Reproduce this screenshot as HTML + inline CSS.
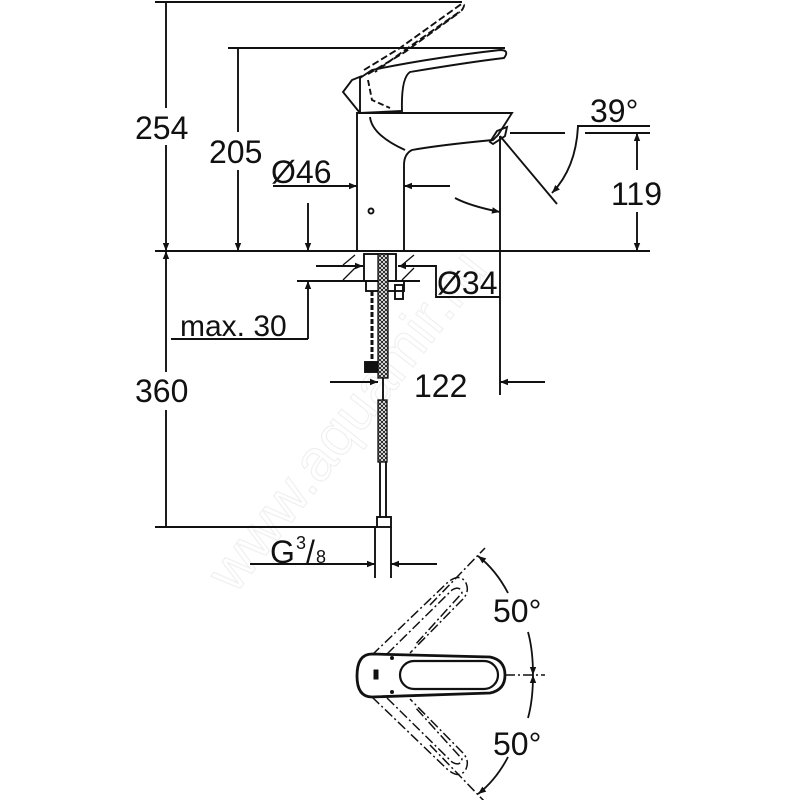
<!DOCTYPE html>
<html><head><meta charset="utf-8"><style>
html,body{margin:0;padding:0;background:#fff;}
svg{display:block;}
text{font-family:"Liberation Sans",Arial,sans-serif;fill:#111;}
</style></head><body>
<svg width="800" height="800" viewBox="0 0 800 800" xmlns="http://www.w3.org/2000/svg">
<defs>
<marker id="a" viewBox="0 0 10 10" refX="10" refY="5" markerWidth="16" markerHeight="8" markerUnits="userSpaceOnUse" orient="auto-start-reverse"><path d="M0,1 L10,5 L0,9 z" fill="#111"/></marker>
<pattern id="br" width="4" height="4" patternUnits="userSpaceOnUse"><rect width="4" height="4" fill="#fff"/><path d="M0,0 L4,4 M4,0 L0,4" stroke="#111" stroke-width="0.9"/></pattern>
</defs>
<text x="0" y="0" transform="translate(235,595) rotate(-52)" font-size="58" style="fill:none" stroke="#f0f0f0" stroke-width="1.2">www.aquamir.ru</text>
<g stroke="#111" stroke-width="1.9" fill="none">
<line x1="155" y1="2" x2="462" y2="2"/>
<line x1="228" y1="48" x2="505" y2="48"/>
<line x1="155" y1="251" x2="650" y2="251"/>
<line x1="297" y1="281" x2="420" y2="281"/>
<line x1="166" y1="2" x2="166" y2="108"/>
<line x1="166" y1="145" x2="166" y2="251" marker-end="url(#a)"/>
<line x1="166" y1="251" x2="166" y2="372" marker-start="url(#a)"/>
<line x1="166" y1="410" x2="166" y2="527"/>
<line x1="155" y1="527" x2="378" y2="527"/>
<line x1="238" y1="48" x2="238" y2="132"/>
<line x1="238" y1="170" x2="238" y2="251" marker-end="url(#a)"/>
<line x1="308" y1="203" x2="308" y2="251" marker-end="url(#a)"/>
<line x1="308" y1="339" x2="308" y2="281" marker-end="url(#a)"/>
<line x1="171" y1="339" x2="308" y2="339"/>
<line x1="273" y1="186" x2="357" y2="186" marker-end="url(#a)"/>
<line x1="450" y1="186" x2="404" y2="186" marker-end="url(#a)"/>
<line x1="500" y1="136" x2="500" y2="395"/>
<line x1="330" y1="382" x2="378" y2="382" marker-end="url(#a)"/>
<line x1="545" y1="382" x2="500" y2="382" marker-end="url(#a)"/>
<line x1="510" y1="133" x2="565" y2="133"/>
<line x1="585" y1="133" x2="650" y2="133"/>
<line x1="577" y1="126" x2="650" y2="126"/>
<line x1="637" y1="170" x2="637" y2="133" marker-end="url(#a)"/>
<line x1="637" y1="212" x2="637" y2="251" marker-end="url(#a)"/>
<line x1="500" y1="136" x2="557" y2="204"/>
<path d="M578,126 Q576,168 552,193" marker-end="url(#a)"/>
<path d="M455,198 Q470,206 500,212" marker-end="url(#a)"/>
<path d="M357,251 L357,113 L512,113 L498,135 L493,140 Q440,145 412,150 Q404,154 404,165 L404,251"/>
<path d="M370,117 Q372,135 405,150"/>
<path d="M490,142 L497,131 L507,127 L505,136 L493,144 z"/>
<circle cx="371" cy="211" r="2.5"/>
<path d="M360,113 L360,78 L372,70 Q430,58 500,50 Q510,50 504,58 Q470,62 410,72 Q401,78 402,111 L360,113"/>
<path d="M360,113 L343,92 L352,80 L362,76"/>
<path d="M368,80 L372,100 L390,108" stroke-dasharray="6,3"/>
<path d="M364,70 L400,48 L460,5 Q467,2 462,10 L405,50 L375,72" stroke-dasharray="7,3"/>
<path d="M368,74 L405,52 L460,12" stroke-dasharray="7,3"/>
<line x1="340" y1="251" x2="420" y2="251"/>
<path d="M343,265 L355,255 M343,280 L355,268 M402,265 L414,255 M402,280 L414,268" stroke-width="1.3"/>
<line x1="316" y1="266" x2="363" y2="266" marker-end="url(#a)"/>
<line x1="428" y1="266" x2="398" y2="266" marker-end="url(#a)"/>
<path d="M424,266 L436,266 L436,297 L500,297"/>
<rect x="364" y="254" width="32" height="27"/>
<rect x="366" y="281" width="38" height="10"/>
<rect x="395" y="285" width="8" height="14"/>
<line x1="372" y1="291" x2="372" y2="365" stroke-dasharray="5,2" stroke-width="3"/>
<rect x="378" y="254" width="10" height="124" fill="url(#br)" stroke-width="1.3"/>
<rect x="365" y="362" width="12" height="10" fill="#111"/>
<line x1="383" y1="378" x2="383" y2="400"/>
<rect x="378" y="400" width="9" height="62" fill="url(#br)" stroke-width="1.3"/>
<line x1="380" y1="462" x2="380" y2="518"/>
<line x1="386" y1="462" x2="386" y2="518"/>
<rect x="377" y="517" width="14" height="10"/>
<line x1="375" y1="527" x2="375" y2="578"/>
<line x1="391" y1="527" x2="391" y2="578"/>
<line x1="330" y1="564" x2="375" y2="564" marker-end="url(#a)"/>
<line x1="437" y1="564" x2="391" y2="564" marker-end="url(#a)"/>
<line x1="250" y1="564" x2="330" y2="564"/>
</g>
<g stroke="#111" fill="none">
<path d="M372,654 L490,657 Q505,660 505,675 Q505,690 490,693 L372,697 Q357,697 357,676 Q357,654 372,654 z" stroke-width="2.8"/>
<rect x="400" y="661" width="98" height="28" rx="14" stroke-width="2.2"/>
<rect x="374" y="670" width="4" height="9" fill="#111"/>
<circle cx="392" cy="658" r="1.5" fill="#111"/>
<circle cx="392" cy="692" r="1.5" fill="#111"/>
<g stroke-width="1.5" stroke-dasharray="10,3,2,3">
<path d="M372,655 L447,583 Q460,572 466,583 Q470,592 462,600 L410,653"/>
<path d="M387,654 L452,590 Q460,585 462,593 L415,645"/>
<path d="M372,697 L447,769 Q460,780 466,769 Q470,760 462,752 L410,699"/>
<path d="M387,698 L452,762 Q460,767 462,759 L415,707"/>
<line x1="505" y1="675" x2="545" y2="675"/>
<line x1="430" y1="605" x2="485" y2="548"/>
<line x1="430" y1="745" x2="485" y2="802"/>
</g>
<path d="M508,593 Q496,570 478,556" stroke-width="1.8" marker-end="url(#a)"/>
<path d="M528,632 Q533,650 533,675" stroke-width="1.8" marker-end="url(#a)"/>
<path d="M528,718 Q533,700 533,675" stroke-width="1.8" marker-end="url(#a)"/>
<path d="M508,757 Q496,780 478,794" stroke-width="1.8" marker-end="url(#a)"/>
</g>
<g font-size="32">
<text x="135" y="139">254</text>
<text x="135" y="402">360</text>
<text x="209" y="163">205</text>
<text x="271" y="183">Ø46</text>
<text x="437" y="294">Ø34</text>
<text x="180" y="336" font-size="30">max. 30</text>
<text x="414" y="397">122</text>
<text x="611" y="205">119</text>
<text x="590" y="122">39°</text>
<text x="270" y="563">G</text>
<text x="296" y="549" font-size="18">3</text>
<text x="306" y="563">/</text>
<text x="316" y="563" font-size="18">8</text>
<text x="493" y="622">50°</text>
<text x="493" y="755">50°</text>
</g>
</svg>
</body></html>
